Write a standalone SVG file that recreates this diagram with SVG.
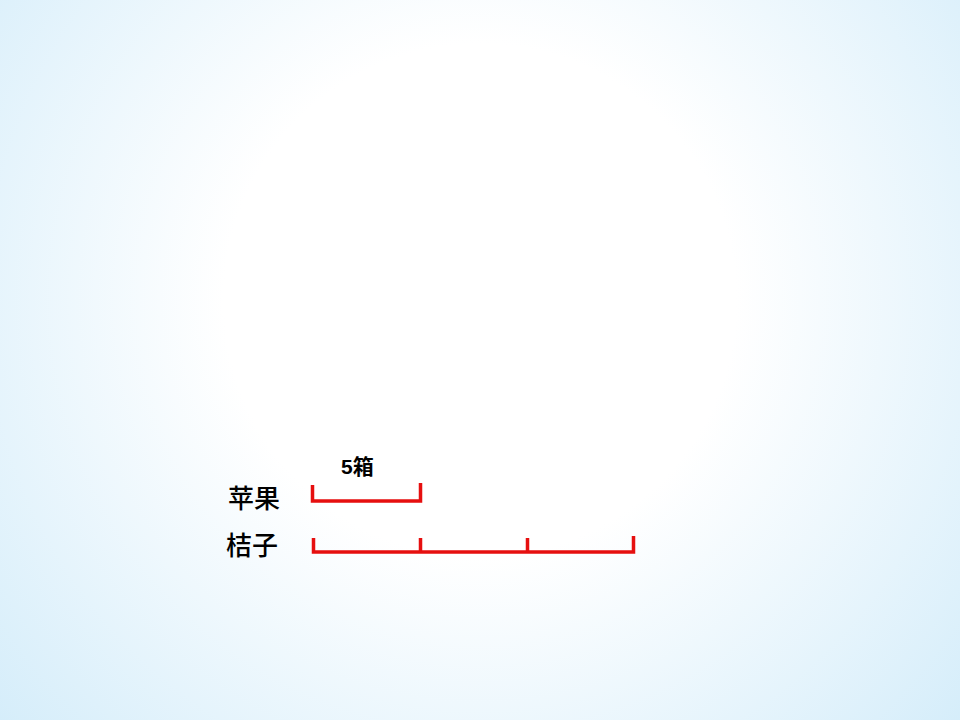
<svg xmlns="http://www.w3.org/2000/svg" width="960" height="720" viewBox="0 0 960 720">
<defs>
<radialGradient id="bg" cx="480" cy="300" r="640" gradientUnits="userSpaceOnUse">
<stop offset="0" stop-color="#ffffff"/>
<stop offset="0.4" stop-color="#ffffff"/>
<stop offset="1" stop-color="#d5edfa"/>
</radialGradient>
<style>
.bar{fill:none;stroke:#e60f0f;stroke-width:3.5;stroke-linecap:butt;stroke-linejoin:miter}
.lbl{font-family:"Liberation Serif","Noto Sans CJK SC",serif;font-size:26px;font-weight:500;fill:#000}
.num{font-family:"Liberation Sans","Noto Sans CJK SC",sans-serif;font-size:21px;font-weight:bold;fill:#000}
</style>
</defs>
<rect width="960" height="720" fill="url(#bg)"/>
<g id="apple">
<text class="lbl" x="228" y="508">苹果</text>
</g>
<g id="orange">
<text class="lbl" x="226" y="555">桔子</text>
</g>
<g id="label-5">
<text class="num" x="341" y="474">5箱</text>
</g>
<g id="connectors">
<path class="bar" d="M312.5,485 V501 H420.5 V483"/>
<path class="bar" d="M313.5,538 V552 H633.5 V536"/>
<path class="bar" d="M420.5,538 V552 M527.5,538 V552"/>
</g>
</svg>
